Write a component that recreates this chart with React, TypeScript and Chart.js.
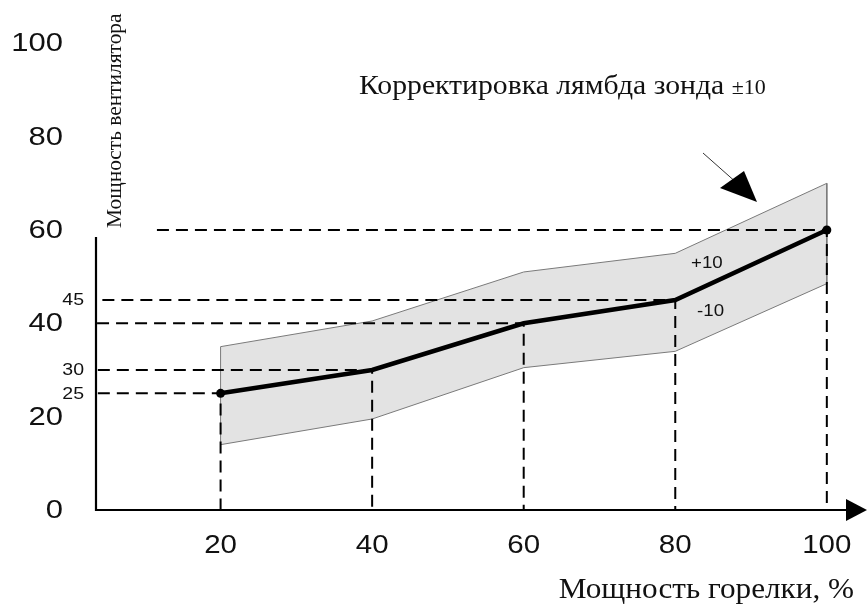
import React, { useEffect, useRef } from "react";
import { Chart, registerables } from "chart.js";

Chart.register(...registerables);

const burnerPower = [20, 40, 60, 80, 100];
const fanPower = [25, 30, 40, 45, 60];
const bandUpper = [35, 40.5, 51, 55, 70];
const bandLower = [14, 19.5, 30.5, 34, 48.5];
const yTickValues = [0, 20, 40, 60, 80, 100];
const xTickValues = [20, 40, 60, 80, 100];
const guideLabels = ["25", "30", "", "45", ""];
const guideStarts = [3.8, 3.8, 3.7, 4.4, 11.6];

const titleText = "Корректировка лямбда зонда ";
const titleSuffix = "±10";
const yTitle = "Мощность вентилятора";
const xTitle = "Мощность горелки, %";

const SANS = '"Liberation Sans", Arial, sans-serif';
const SERIF = '"Liberation Serif", "Times New Roman", serif';

function stretchText(
  ctx: CanvasRenderingContext2D,
  text: string,
  x: number,
  y: number,
  sx: number,
  align: CanvasTextAlign
) {
  ctx.save();
  ctx.translate(x, y);
  ctx.scale(sx, 1);
  ctx.textAlign = align;
  ctx.fillText(text, 0, 0);
  ctx.restore();
}

const textPlugin = {
  id: "textPlugin",
  afterDraw(chart: any) {
    const ctx = chart.ctx as CanvasRenderingContext2D;
    const xs = chart.scales.x;
    const ys = chart.scales.y;
    ctx.save();
    // axes
    ctx.strokeStyle = "#000";
    ctx.lineWidth = 2.2;
    const x0 = xs.getPixelForValue(xs.min);
    const y0 = ys.getPixelForValue(0);
    ctx.beginPath();
    ctx.moveTo(x0, ys.getPixelForValue(58.5));
    ctx.lineTo(x0, y0);
    ctx.lineTo(848, y0);
    ctx.stroke();
    ctx.fillStyle = "#000";
    ctx.beginPath();
    ctx.moveTo(846, y0 - 11);
    ctx.lineTo(867, y0);
    ctx.lineTo(846, y0 + 11);
    ctx.closePath();
    ctx.fill();

    ctx.fillStyle = "#111";
    // y tick labels
    ctx.textBaseline = "middle";
    ctx.font = `25px ${SANS}`;
    yTickValues.forEach((v) => {
      stretchText(ctx, String(v), 63, ys.getPixelForValue(v) + 1, 1.24, "right");
    });
    // x tick labels
    xTickValues.forEach((v) => {
      stretchText(ctx, String(v), xs.getPixelForValue(v), 546, 1.18, "center");
    });
    // small guide labels
    ctx.font = `16px ${SANS}`;
    guideLabels.forEach((l, i) => {
      if (l) stretchText(ctx, l, 84, ys.getPixelForValue(fanPower[i]) + 1, 1.22, "right");
    });
    // band labels
    ctx.font = `17px ${SANS}`;
    stretchText(ctx, "+10", 691, 263, 1.1, "left");
    stretchText(ctx, "-10", 697, 311, 1.1, "left");

    // title
    ctx.textBaseline = "alphabetic";
    ctx.save();
    ctx.translate(359, 94);
    ctx.scale(1.1, 1);
    ctx.textAlign = "left";
    ctx.font = `27px ${SERIF}`;
    ctx.fillText(titleText, 0, 0);
    const w = ctx.measureText(titleText).width;
    ctx.font = `20px ${SERIF}`;
    ctx.fillText(titleSuffix, w, 0);
    ctx.restore();

    // x title
    ctx.font = `30px ${SERIF}`;
    ctx.textBaseline = "middle";
    stretchText(ctx, xTitle, 854, 590, 1.04, "right");

    // y title
    ctx.save();
    ctx.translate(116, 228);
    ctx.rotate(-Math.PI / 2);
    ctx.textAlign = "left";
    ctx.font = `20px ${SERIF}`;
    ctx.scale(1.07, 1);
    ctx.fillText(yTitle, 0, 0);
    ctx.restore();

    // annotation arrow
    ctx.strokeStyle = "#333";
    ctx.lineWidth = 1;
    ctx.beginPath();
    ctx.moveTo(703, 153);
    ctx.lineTo(738, 184);
    ctx.stroke();
    ctx.fillStyle = "#000";
    ctx.beginPath();
    ctx.moveTo(720, 188);
    ctx.lineTo(744, 171);
    ctx.lineTo(757, 202);
    ctx.closePath();
    ctx.fill();
    ctx.restore();
  },
};

export default function App() {
  const ref = useRef<HTMLCanvasElement | null>(null);
  useEffect(() => {
    if (!ref.current) return;
    const mainData = burnerPower.map((x, i) => ({ x, y: fanPower[i] }));
    const bandData = [
      ...burnerPower.map((x, i) => ({ x, y: bandUpper[i] })),
      ...burnerPower.map((x, i) => ({ x, y: bandLower[i] })).reverse(),
      { x: burnerPower[0], y: bandUpper[0] },
    ];
    const guides = burnerPower.map((x, i) => ({
      data: [
        { x: guideStarts[i], y: fanPower[i] },
        { x, y: fanPower[i] },
        { x, y: 0 },
      ],
      borderColor: "#000",
      borderWidth: 2,
      borderDash: [12, 7],
      pointRadius: 0,
      fill: false,
      tension: 0,
      clip: false as any,
    }));
    const chart = new Chart(ref.current, {
      type: "line",
      data: {
        datasets: [
          {
            data: mainData,
            borderColor: "#000",
            borderWidth: 4.5,
            pointRadius: [4.5, 0, 0, 0, 4.5],
            pointBackgroundColor: "#000",
            pointBorderWidth: 0,
            fill: false,
            tension: 0,
            clip: false as any,
          },
          ...guides,
          {
            data: bandData,
            borderColor: "#7a7a7a",
            borderWidth: 1,
            backgroundColor: "#e3e3e3",
            pointRadius: 0,
            fill: "shape" as any,
            tension: 0,
            clip: false as any,
          },
        ],
      },
      options: {
        animation: false,
        responsive: false,
        devicePixelRatio: 1,
        layout: { padding: { left: 96, right: 12, top: 43.3, bottom: 95 } },
        plugins: { legend: { display: false }, tooltip: { enabled: false } },
        scales: {
          x: { type: "linear", min: 3.56, max: 103.85, display: false },
          y: { type: "linear", min: 0, max: 100, display: false },
        },
      },
      plugins: [textPlugin],
    });
    return () => chart.destroy();
  }, []);
  return (
    <div style={{ position: "fixed", left: 0, top: 0, width: 868, height: 605, background: "#fff" }}>
      <canvas ref={ref} width={868} height={605} />
    </div>
  );
}
